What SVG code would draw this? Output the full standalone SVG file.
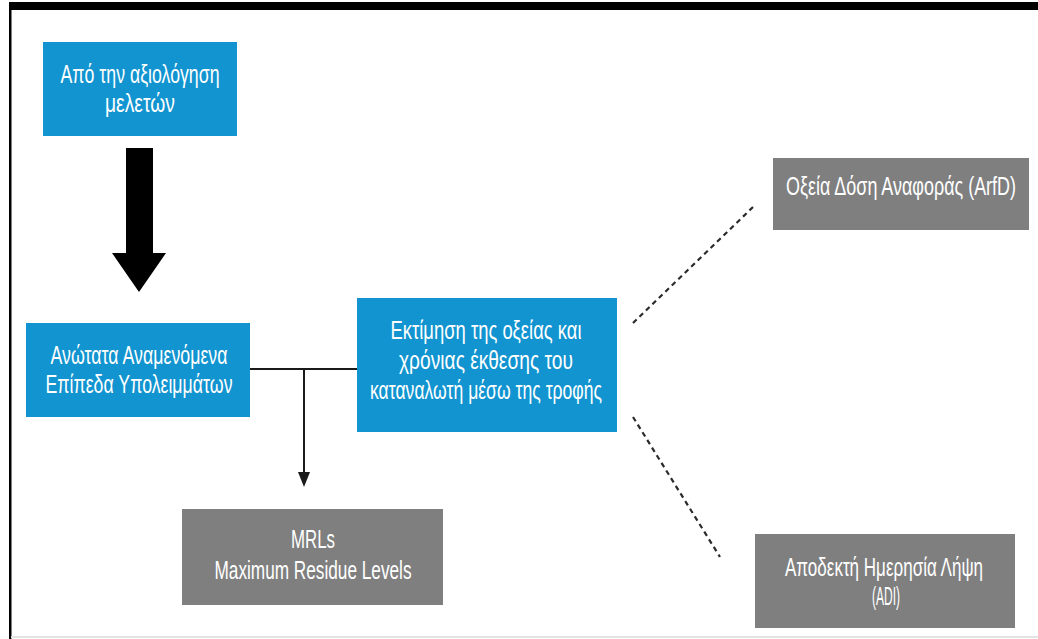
<svg xmlns="http://www.w3.org/2000/svg" width="1038" height="639" viewBox="0 0 1038 639">
  <defs>
    <style>
      .blue { fill: #1194d0; }
      .gray { fill: #7f7f7f; }
      .lbl { font-family: "Liberation Sans Narrow", "Liberation Sans", "DejaVu Sans", sans-serif; font-size: 25px; fill: #ffffff; text-anchor: middle; }
      .conn { stroke: #1a1a1a; stroke-width: 2; fill: none; }
      .dash { stroke: #2a2a2a; stroke-width: 2.2; fill: none; stroke-dasharray: 5 4; }
    </style>
  </defs>

  <rect x="0" y="0" width="1038" height="639" fill="#ffffff"/>
  <!-- frame -->
  <rect x="9" y="2" width="1029" height="8" fill="#000000"/>
  <rect x="9" y="2" width="2.5" height="637" fill="#000000"/>
  <line x1="11" y1="637" x2="1038" y2="637" stroke="#e4e4e4" stroke-width="2"/>

  <g id="connectors">
    <path d="M126,148 H153 V253 H166 L139,292 L112,253 H126 Z" fill="#000000"/>
    <line class="conn" x1="250" y1="369" x2="357" y2="369"/>
    <path d="M304,369 V472" class="conn"/>
    <path d="M298,472 L310,472 L304,487 Z" fill="#1a1a1a"/>
    <line class="dash" x1="633" y1="323" x2="753" y2="207"/>
    <line class="dash" x1="633" y1="417" x2="720" y2="557"/>
  </g>

  <g id="node-studies">
    <rect class="blue" x="43" y="42" width="194" height="94"/>
    <text class="lbl" x="140" y="83" textLength="159" lengthAdjust="spacingAndGlyphs">Από την αξιολόγηση</text>
    <text class="lbl" x="140" y="112" textLength="70" lengthAdjust="spacingAndGlyphs">μελετών</text>
  </g>

  <g id="node-residues">
    <rect class="blue" x="26" y="323" width="224" height="94"/>
    <text class="lbl" x="139" y="364" textLength="177" lengthAdjust="spacingAndGlyphs">Ανώτατα Αναμενόμενα</text>
    <text class="lbl" x="139" y="393" textLength="187" lengthAdjust="spacingAndGlyphs">Επίπεδα Υπολειμμάτων</text>
  </g>

  <g id="node-exposure">
    <rect class="blue" x="357" y="298" width="260" height="134"/>
    <text class="lbl" x="486" y="339" textLength="191" lengthAdjust="spacingAndGlyphs">Εκτίμηση της οξείας και</text>
    <text class="lbl" x="486" y="369" textLength="174" lengthAdjust="spacingAndGlyphs">χρόνιας έκθεσης του</text>
    <text class="lbl" x="486" y="399" textLength="232" lengthAdjust="spacingAndGlyphs">καταναλωτή μέσω της τροφής</text>
  </g>

  <g id="node-arfd">
    <rect class="gray" x="773" y="158" width="256" height="72"/>
    <text class="lbl" x="901" y="195" textLength="230" lengthAdjust="spacingAndGlyphs">Οξεία Δόση Αναφοράς (ArfD)</text>
  </g>

  <g id="node-adi">
    <rect class="gray" x="755" y="534" width="260" height="94"/>
    <text class="lbl" x="884" y="576" textLength="198" lengthAdjust="spacingAndGlyphs">Αποδεκτή Ημερησία Λήψη</text>
    <text class="lbl" x="886" y="605" textLength="28" lengthAdjust="spacingAndGlyphs">(ADI)</text>
  </g>

  <g id="node-mrls">
    <rect class="gray" x="182" y="509" width="261" height="96"/>
    <text class="lbl" x="313" y="548" textLength="44" lengthAdjust="spacingAndGlyphs">MRLs</text>
    <text class="lbl" x="313" y="579" textLength="197" lengthAdjust="spacingAndGlyphs">Maximum Residue Levels</text>
  </g>
</svg>
